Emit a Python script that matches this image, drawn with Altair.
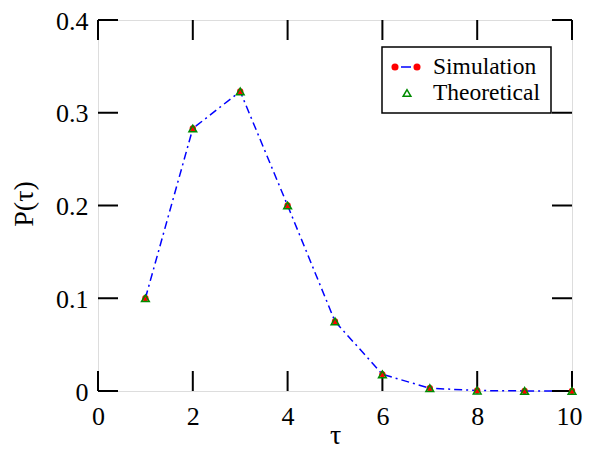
import altair as alt
import pandas as pd

tau = [1, 2, 3, 4, 5, 6, 7, 8, 9, 10]
p_sim = [0.100, 0.283, 0.323, 0.200, 0.075, 0.018, 0.003, 0.0005, 0.0001, 0.0]
p_theo = [0.100, 0.283, 0.323, 0.200, 0.075, 0.018, 0.003, 0.0005, 0.0001, 0.0]
x_ticks = [0, 2, 4, 6, 8, 10]
y_ticks = [0, 0.1, 0.2, 0.3, 0.4]
legend_labels = ["Simulation", "Theoretical"]

W, H = 474, 371
TL = 20  # tick length
FONT = "Liberation Serif, Times New Roman, Times, serif"

df = pd.DataFrame({"tau": tau, "sim": p_sim, "theo": p_theo})
dfx = pd.DataFrame({"t": x_ticks})
dfy = pd.DataFrame({"t": y_ticks})

xs = alt.Scale(domain=[0, 10], nice=False, zero=False)
ys = alt.Scale(domain=[0, 0.4], nice=False, zero=False)

ylab = "datum.value == 0 ? '0' : format(datum.value, '.1f')"

line = alt.Chart(df).mark_line(color="#0000ff", strokeWidth=1.5, strokeDash=[8, 4, 2, 4]).encode(
    x=alt.X("tau:Q", scale=xs, axis=alt.Axis(orient="bottom", values=x_ticks, ticks=False, domain=False,
                                              grid=False, labelFontSize=26, labelFont=FONT, labelPadding=12,
                                              labelFlush=False, labelColor="black",
                                              labelOffset=alt.ExprRef(expr="datum.value == 10 ? -3 : 0"),
                                              title="τ", titleFont=FONT, titleFontSize=28,
                                              titleFontWeight="normal", titleColor="black",
                                              titleX=W / 2, titleY=52, titleBaseline="alphabetic")),
    y=alt.Y("sim:Q", scale=ys, axis=alt.Axis(orient="left", values=y_ticks, ticks=False, domain=False,
                                             grid=False, labelFontSize=26, labelFont=FONT, labelPadding=10,
                                             labelFlush=False, labelColor="black", labelExpr=ylab,
                                             labelBaseline="alphabetic", labelOffset=9,
                                             title="P(τ)", titleFont=FONT, titleFontSize=28,
                                             titleFontWeight="normal", titleColor="black",
                                             titleX=-74, titleY=H / 2 - 2, titleBaseline="middle",
                                             titleAngle=270)),
)

rule_style = dict(color="black", strokeWidth=2)
xt_bottom = alt.Chart(dfx).mark_rule(**rule_style).encode(
    x=alt.X("t:Q", scale=xs), y=alt.value(H), y2=alt.value(H - TL))
xt_top = alt.Chart(dfx).mark_rule(**rule_style).encode(
    x=alt.X("t:Q", scale=xs), y=alt.value(0), y2=alt.value(TL))
yt_left = alt.Chart(dfy).mark_rule(**rule_style).encode(
    y=alt.Y("t:Q", scale=ys), x=alt.value(0), x2=alt.value(TL))
yt_right = alt.Chart(dfy).mark_rule(**rule_style).encode(
    y=alt.Y("t:Q", scale=ys), x=alt.value(W - TL), x2=alt.value(W))

circles = alt.Chart(df).mark_point(shape="circle", filled=True, color="#ff0000", size=40, opacity=1).encode(
    x=alt.X("tau:Q", scale=xs), y=alt.Y("sim:Q", scale=ys))

tris = alt.Chart(df).mark_point(shape="triangle-up", filled=False, color="#008b00", size=60, strokeWidth=1.5,
                                opacity=1).encode(
    x=alt.X("tau:Q", scale=xs), y=alt.Y("theo:Q", scale=ys))

# legend
one = pd.DataFrame({"a": [0]})
lbox = alt.Chart(one).mark_rect(fill="white", stroke="black", strokeWidth=1.5).encode(
    x=alt.value(284), x2=alt.value(453), y=alt.value(27), y2=alt.value(93))
ldash = alt.Chart(one).mark_rule(color="#0000ff", strokeWidth=1.5).encode(
    x=alt.value(303), x2=alt.value(313), y=alt.value(47))
lcirc = alt.Chart(pd.DataFrame({"px": [297, 319]})).mark_point(shape="circle", filled=True, color="#ff0000",
                                                               size=50, opacity=1).encode(
    x=alt.X("px:Q", scale=None), y=alt.value(47))
ltri = alt.Chart(one).mark_point(shape="triangle-up", filled=False, color="#008b00", size=60, strokeWidth=1.5,
                                 opacity=1).encode(x=alt.value(309), y=alt.value(73))
ltext = alt.Chart(pd.DataFrame({"label": legend_labels, "py": [47, 73]})).mark_text(
    align="left", baseline="middle", font=FONT, fontSize=23.5, color="black").encode(
    x=alt.value(335), y=alt.Y("py:Q", scale=None), text="label:N")

chart = alt.layer(line, xt_bottom, xt_top, yt_left, yt_right, circles, tris,
                  lbox, ldash, lcirc, ltri, ltext).properties(
    width=W, height=H,
    autosize=alt.AutoSizeParams(type="none"),
    padding={"left": 90, "top": 12, "right": 11, "bottom": 58},
).configure_view(stroke="black", strokeWidth=2).configure(background="white")

chart.save("out.html", embed_options={"renderer": "svg", "actions": False})
